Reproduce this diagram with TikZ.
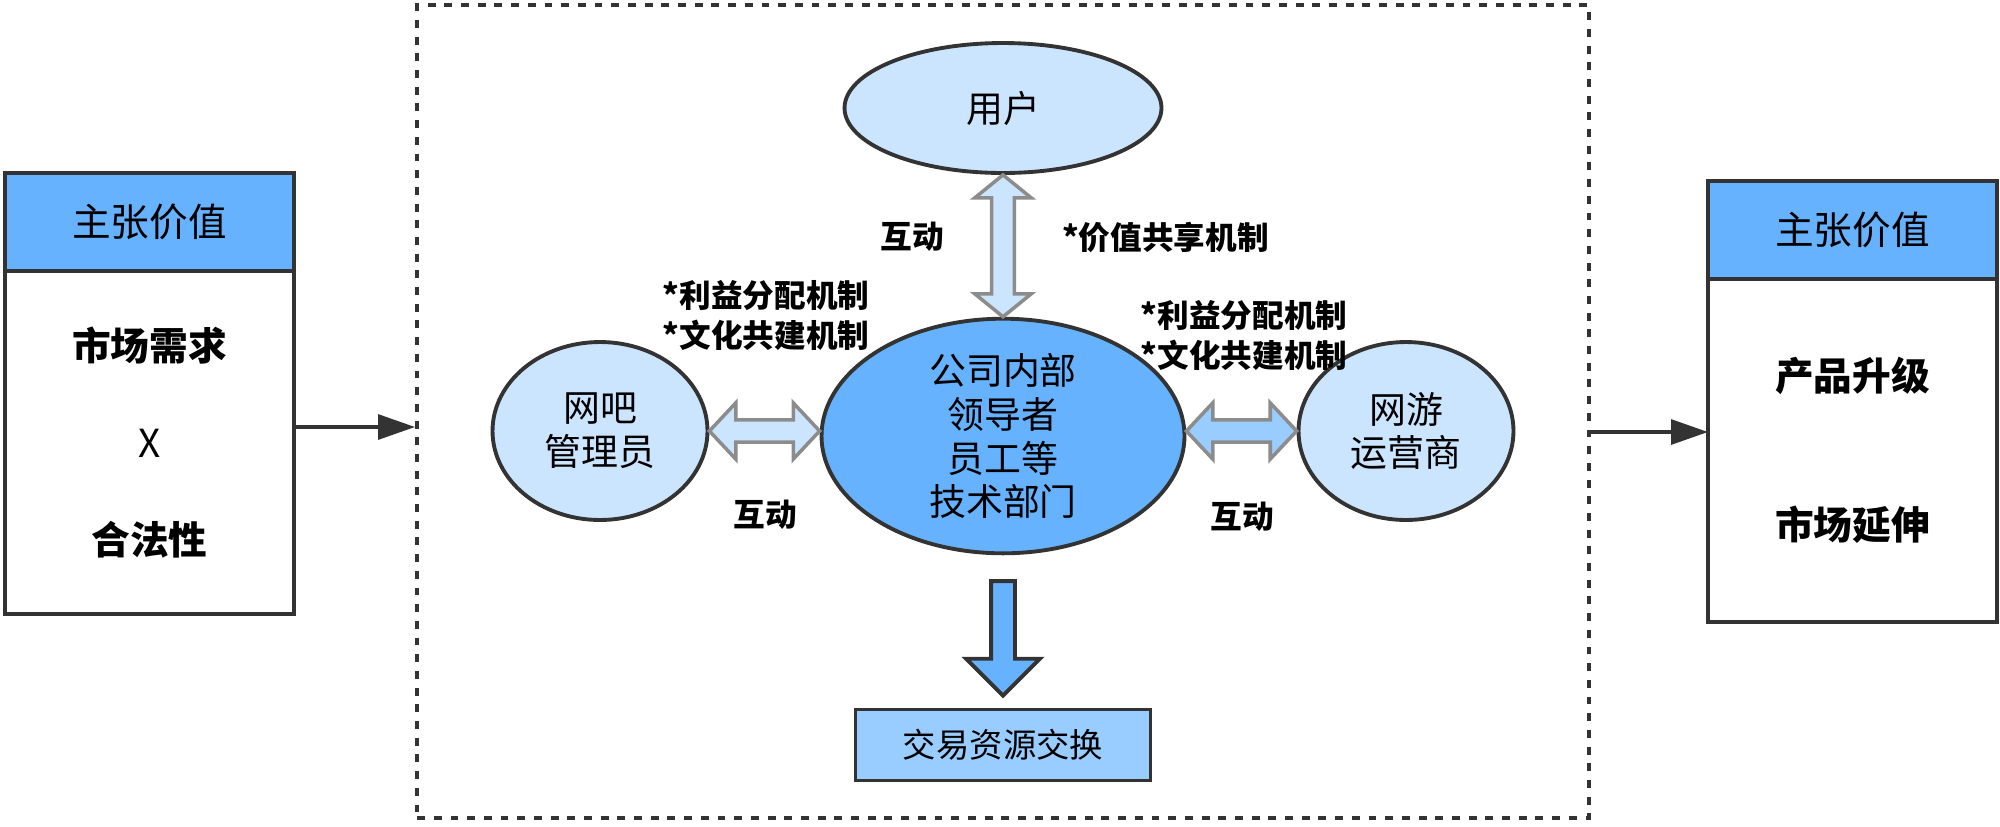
\documentclass[tikz,border=0pt]{standalone}
\usepackage{fontspec}
\setmainfont{Noto Sans CJK SC}
\usetikzlibrary{positioning,shapes.geometric,arrows.meta,calc}

\definecolor{lineDark}{HTML}{333333}
\definecolor{headBlue}{HTML}{66B2FF}
\definecolor{paleBlue}{HTML}{CCE5FF}
\definecolor{midBlue}{HTML}{99CCFF}
\definecolor{arrowGrey}{HTML}{8C8C8C}

\tikzset{
  dotframe/.style={draw=lineDark, line width=2.3pt, dash pattern=on 4.5pt off 5pt, minimum width=23.44cm, minimum height=16.26cm},
  headbox/.style={draw=lineDark, line width=2.2pt, fill=headBlue, minimum width=5.78cm, minimum height=1.96cm, inner sep=0pt, outer sep=0pt, font=\fontsize{22}{26}\selectfont},
  bodybox/.style={draw=lineDark, line width=2.2pt, fill=white, minimum width=5.78cm, minimum height=6.86cm, inner sep=0pt, outer sep=0pt, align=center},
  party/.style={ellipse, draw=lineDark, line width=2.2pt, fill=paleBlue, inner sep=0pt, align=center, font=\fontsize{21}{25}\selectfont},
  tradebox/.style={draw=lineDark, line width=2.2pt, fill=midBlue, minimum width=5.9cm, minimum height=1.42cm, inner sep=0pt, font=\fontsize{19}{23}\selectfont},
  mechtext/.style={font=\bfseries\fontsize{18}{22.7}\selectfont, align=center},
  biarrow/.style={draw=arrowGrey, line width=2pt, line join=miter},
  downarrow/.style={draw=lineDark, line width=2.2pt, fill=headBlue, line join=miter},
  flow/.style={draw=lineDark, line width=2.3pt, -{Triangle[length=21pt,width=14pt]}}
}

% horizontal block arrow, both ends at the same height
\newcommand{\sidearrow}[3]{%
  \path[biarrow, fill=#3] let \p1=(#1), \p2=(#2) in
    (\x1,\y1) -- ({\x1+15pt},{\y1+16pt}) -- ({\x1+15pt},{\y1+6.3pt}) -- ({\x2-15pt},{\y1+6.3pt})
    -- ({\x2-15pt},{\y1+16pt}) -- (\x2,\y1) -- ({\x2-15pt},{\y1-16pt}) -- ({\x2-15pt},{\y1-6.3pt})
    -- ({\x1+15pt},{\y1-6.3pt}) -- ({\x1+15pt},{\y1-16pt}) -- cycle;}

% vertical block arrow, #1 on top
\newcommand{\tallarrow}[2]{%
  \path[biarrow, fill=paleBlue] let \p1=(#1), \p2=(#2) in
    (\x1,\y1) -- ({\x1+16pt},{\y1-13pt}) -- ({\x1+6.5pt},{\y1-13pt}) -- ({\x1+6.5pt},{\y2+13pt})
    -- ({\x1+16pt},{\y2+13pt}) -- (\x1,\y2) -- ({\x1-16pt},{\y2+13pt}) -- ({\x1-6.5pt},{\y2+13pt})
    -- ({\x1-6.5pt},{\y1-13pt}) -- ({\x1-16pt},{\y1-13pt}) -- cycle;}

\begin{document}
\begin{tikzpicture}[x=0.02cm, y=-0.02cm]
  \useasboundingbox (0,0) rectangle (2000,826);

  % Dotted frame round the inner model
  \node[dotframe] (frame) at (1003,411.5) {};

  % Left value box
  \node[headbox] (lhead) at (149.5,222) {主张价值};
  \node[bodybox, below=0pt of lhead, font=\fontsize{22}{55}\selectfont] (lbody) {\textbf{市场需求}\\X\\\textbf{合法性}};

  % Right value box
  \node[headbox] (rhead) at (1852.5,230) {主张价值};
  \node[bodybox, below=0pt of rhead, font=\fontsize{22}{85}\selectfont] (rbody) {\textbf{产品升级}\\\textbf{市场延伸}};

  % Parties
  \node[party, minimum width=6.34cm, minimum height=2.6cm] (user) at (1003,108) {用户};
  \node[party, fill=headBlue, minimum width=7.26cm, minimum height=4.44cm] (core) at (1003,436) {公司内部\\领导者\\员工等\\技术部门};
  \node[party, minimum width=4.3cm, minimum height=3.56cm] (admin) at (600,431) {网吧\\管理员};
  \node[party, minimum width=4.3cm, minimum height=3.56cm] (oper) at (1406,431) {网游\\运营商};
  \node[tradebox] (trade) at (1003,745) {交易资源交换};

  % Labels
  \node[mechtext] (topact) at (912,237) {互动};
  \node[mechtext, anchor=west] (share) at (1056,237) {*价值共享机制};
  \node[mechtext] (lmech) at (766,315) {*利益分配机制\\*文化共建机制};
  \node[mechtext] (rmech) at (1244,335) {*利益分配机制\\*文化共建机制};
  \node[mechtext] (lact) at (765,515) {互动};
  \node[mechtext] (ract) at (1242,517) {互动};

  % Interaction arrows
  \tallarrow{user.south}{core.north}
  \sidearrow{admin.east}{core.west |- admin.east}{paleBlue}
  \sidearrow{core.east |- oper.west}{oper.west}{midBlue}

  % Output arrow
  \path[downarrow] let \p1=(core.south), \p2=(trade.north) in
    ({\x1-6.8pt},{\y1-14.7pt}) -- ({\x1+6.8pt},{\y1-14.7pt}) -- ({\x1+6.8pt},{\y2+27.8pt})
    -- ({\x1+21pt},{\y2+27.8pt}) -- (\x1,{\y2+6.8pt}) -- ({\x1-21pt},{\y2+27.8pt})
    -- ({\x1-6.8pt},{\y2+27.8pt}) -- cycle;

  % Flow between boxes and frame
  \coordinate (lin) at (0,427);
  \coordinate (rin) at (0,432);
  \draw[flow] (lbody.east |- lin) -- (frame.west |- lin);
  \draw[flow] (frame.east |- rin) -- (rbody.west |- rin);
\end{tikzpicture}
\end{document}
